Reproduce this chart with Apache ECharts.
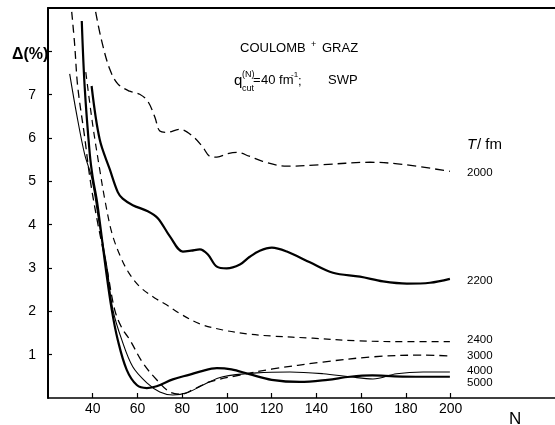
<!DOCTYPE html>
<html>
<head>
<meta charset="utf-8">
<script src="https://cdn.jsdelivr.net/npm/echarts@6/dist/echarts.min.js"></script>
<style>
html,body{margin:0;padding:0;background:#fff;}
#chart{width:555px;height:425px;}
</style>
</head>
<body>
<div id="chart"></div>
<script>
// x ticks (N) and y ticks (Δ %)
const xTickValues = [40, 60, 80, 100, 120, 140, 160, 180, 200];
const yTickValues = [1, 2, 3, 4, 5, 6, 7, 8];
const yLabelValues = [1, 2, 3, 4, 5, 6, 7];

// series: [N, Δ(%)] for each T/fm
const s2000 = [[41.3,8.91],[44.0,8.24],[47.6,7.59],[51.2,7.25],[56.5,7.08],[61.0,7.01],[64.6,6.85],[67.8,6.48],[70,6.16],[73.1,6.13],[78.9,6.20],[84.7,6.04],[89.2,5.79],[92.3,5.58],[95.5,5.56],[100.4,5.64],[104.4,5.67],[110,5.58],[116,5.46],[126.8,5.35],[141.6,5.38],[164,5.44],[178.7,5.39],[199.7,5.23]];
const s2200 = [[39.5,7.2],[43.1,5.97],[47.6,5.28],[51.2,4.75],[53.4,4.6],[57.9,4.45],[64.6,4.31],[69.1,4.15],[74.5,3.73],[80.3,3.38],[84,3.40],[87.9,3.43],[91.5,3.31],[95.5,3.03],[99.9,2.99],[105.8,3.08],[110.2,3.26],[114.7,3.40],[120.1,3.47],[126.8,3.38],[137.1,3.13],[147.4,2.89],[159.5,2.80],[169.8,2.69],[180.5,2.64],[190.8,2.66],[199.7,2.75]];
const s2400 = [[36.9,7.52],[40,6.3],[43.1,5.28],[45.4,4.58],[48.5,3.82],[52.1,3.3],[56,2.9],[61,2.57],[67.7,2.31],[73,2.15],[78.9,1.95],[87.9,1.71],[98.2,1.57],[108.9,1.48],[120,1.43],[138.4,1.38],[158.1,1.32],[180.5,1.30],[199.7,1.30]];
const s3000 = [[30.6,8.91],[31.9,8.17],[33.3,7.18],[36.4,6.02],[38.7,5.09],[42,4.1],[46.3,3.0],[49.8,2.04],[53,1.62],[56.6,1.34],[62.4,0.81],[68.6,0.42],[74.4,0.14],[79.8,0.09],[84.7,0.19],[92.3,0.37],[105.8,0.53],[120.5,0.67],[142.9,0.83],[165.3,0.95],[187.7,0.99],[199.7,0.97]];
const s4000 = [[29.7,7.48],[32.8,6.55],[36.4,5.62],[39.5,5.09],[43,4.0],[46.3,3.03],[49,2.04],[53,1.34],[57.9,0.72],[64.2,0.35],[70,0.14],[75.8,0.07],[82.1,0.12],[90,0.32],[98.2,0.49],[113.4,0.58],[128.2,0.60],[143,0.56],[155,0.49],[165.3,0.44],[175.9,0.56],[187.7,0.60],[199.7,0.60]];
const s5000 = [[35.1,8.70],[36.4,7.18],[38.7,5.62],[40,5.09],[42,4.5],[45.8,3.0],[48.5,2.04],[51.2,1.34],[55.2,0.65],[59.7,0.30],[64.2,0.23],[68.6,0.27],[75.8,0.43],[83.4,0.54],[87.9,0.61],[95.5,0.69],[102,0.66],[110,0.55],[120,0.42],[132.6,0.37],[145,0.42],[155,0.49],[165,0.52],[175,0.50],[187,0.49],[199.7,0.49]];

const seriesNames = ['2000','2200','2400','3000','4000','5000'];
const seriesLabelY = [173, 281, 340, 356, 371, 383];

const FONT = "'Liberation Sans', Arial, sans-serif";
const chart = echarts.init(document.getElementById('chart'), null, {renderer:'canvas'});

function line(name, data, width, dash) {
  return {
    name, type:'line', data, smooth:0.35, symbol:'none', clip:true,
    lineStyle:{color:'#000', width, type: dash || 'solid'},
    emphasis:{disabled:true}
  };
}

function txt(x, y, text, font, align) {
  return {type:'text', x, y, style:{text, font, fill:'#000', textAlign:align||'left', textVerticalAlign:'middle', align:align||'left', verticalAlign:'middle'}};
}

const labelGraphics = seriesNames.map((n, i) => txt(467, seriesLabelY[i], n, '11.5px ' + FONT));

chart.setOption({
  backgroundColor:'#fff',
  animation:false,
  grid:{left:48, right:0, top:8, bottom:27},
  xAxis:[{
    type:'value', min:20, max:246.7, position:'bottom',
    axisLine:{show:true, lineStyle:{color:'#000', width:1.5}},
    axisTick:{show:true, inside:true, length:5, customValues:xTickValues, lineStyle:{color:'#000', width:1.2}},
    axisLabel:{show:true, customValues:xTickValues, margin:4, color:'#000', fontSize:14, fontFamily:FONT},
    splitLine:{show:false}
  },{
    type:'value', min:20, max:246.7, position:'top',
    axisLine:{show:true, lineStyle:{color:'#000', width:2}},
    axisTick:{show:false}, axisLabel:{show:false}, splitLine:{show:false}
  }],
  yAxis:{
    type:'value', min:0, max:9,
    axisLine:{show:true, lineStyle:{color:'#000', width:2}},
    axisTick:{show:true, inside:true, length:4, customValues:yTickValues, lineStyle:{color:'#000', width:1.2}},
    axisLabel:{show:true, customValues:yLabelValues, margin:12, color:'#000', fontSize:14, fontFamily:FONT},
    splitLine:{show:false}
  },
  series:[
    line('2000', s2000, 1.3, [9,5]),
    line('2200', s2200, 2.2),
    line('2400', s2400, 1.2, [7,5]),
    line('3000', s3000, 1.3, [8,5]),
    line('4000', s4000, 1.1),
    line('5000', s5000, 2.2)
  ],
  graphic:[
    txt(12, 55, 'Δ(%)', 'bold 16px ' + FONT),
    txt(240, 48, 'COULOMB', '13px ' + FONT),
    txt(311, 45, '+', '9px ' + FONT),
    txt(322, 48, 'GRAZ', '13px ' + FONT),
    txt(234, 81, 'q', '15px ' + FONT),
    txt(242, 75, '(N)', '9px ' + FONT),
    txt(242, 89, 'cut', '9px ' + FONT),
    txt(253, 80, '=', '13px ' + FONT),
    txt(261, 80, '40 fm', '13px ' + FONT),
    txt(291, 75, '-1', '8px ' + FONT),
    txt(298, 81, ';', '13px ' + FONT),
    txt(328, 80, 'SWP', '13px ' + FONT),
    txt(467, 145, 'T', 'italic 15px ' + FONT),
    txt(477, 145, '/ fm', '15px ' + FONT),
    txt(509, 419, 'N', '17px ' + FONT),
    ...labelGraphics
  ]
});
</script>
</body>
</html>
